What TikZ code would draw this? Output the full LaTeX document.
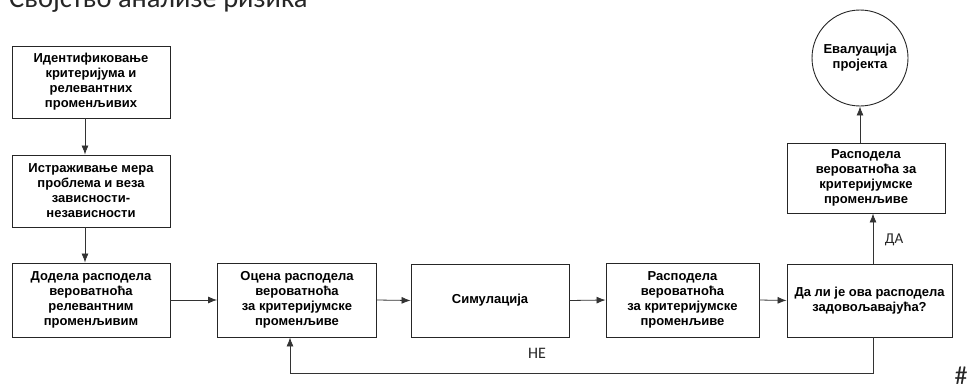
\documentclass[tikz,border=0pt]{standalone}
\usepackage{fontspec}
\setmainfont{Liberation Sans}
\newfontfamily\lblfont{Carlito}
\usetikzlibrary{arrows.meta,calc}
\tikzset{
  boxnode/.style={draw=black!85, line width=0.9pt, rectangle, align=center,
    font=\fontsize{13}{15}\selectfont\bfseries, inner sep=2pt},
  arr/.style={draw=black!80, line width=0.8pt, -{Latex[length=9pt,width=7pt]}},
  lbl/.style={font=\lblfont\fontsize{16}{18}\selectfont, text=black!85, inner sep=0pt}
}
\begin{document}
\begin{tikzpicture}[x=1pt,y=-1pt]
\useasboundingbox (0,0) rectangle (971,388);
\node[font=\lblfont\fontsize{28.5}{30}\selectfont, anchor=base west, inner sep=0pt, text=black!85] (title) at (9,7.5) {Својство анализе ризика};

\node[boxnode, minimum width=158pt, minimum height=72pt] (b1) at (91,82) {Идентификовање\\критеријума и\\релевантних\\променљивих};
\node[boxnode, minimum width=158pt, minimum height=72pt] (b2) at (91,191) {Истраживање мера\\проблема и веза\\зависности-\\независности};
\node[boxnode, minimum width=158pt, minimum height=74pt] (b3) at (91,300) {Додела расподела\\вероватноћа\\релевантним\\променљивим};
\node[boxnode, minimum width=159pt, minimum height=74pt] (b4) at (297,300) {Оцена расподела\\вероватноћа\\за критеријумске\\променљиве};
\node[boxnode, minimum width=158pt, minimum height=73pt] (b5) at (490,300.5) {Симулација};
\node[boxnode, minimum width=153pt, minimum height=74pt] (b6) at (682.5,300) {Расподела\\вероватноћа\\за критеријумске\\променљиве};
\node[boxnode, minimum width=165pt, minimum height=73pt] (b7) at (869.5,300.5) {Да ли је ова расподела\\задовољавајућа?};
\node[boxnode, minimum width=158pt, minimum height=70pt] (b8) at (866,178) {Расподела\\вероватноћа за\\критеријумске\\променљиве};
\node[boxnode, circle, minimum size=96pt, inner sep=0pt] (ev) at (860,58) {Евалуација\\пројекта};

\draw[arr] ([xshift=-6pt]b1.south) -- ([xshift=-6pt]b2.north);
\draw[arr] ([xshift=-6pt]b2.south) -- ([xshift=-6pt]b3.north);
\draw[arr] (b3.east) -- (b4.west);
\draw[arr] (b4.east) -- (b5.west);
\draw[arr] (b5.east) -- (b6.west);
\draw[arr] (b6.east) -- (b7.west);
\coordinate (lr) at (873,373);
\coordinate (ll) at (290,373);
\draw[arr] ([xshift=3.5pt]b7.south) -- (lr) -- (ll) -- ([xshift=-7pt]b4.south);
\draw[arr] ([xshift=3.5pt]b7.north) -- ([xshift=7pt]b8.south);
\draw[arr] (b8.north -| ev.south) -- (ev.south);

\node[lbl] (ne) at (537,353) {НЕ};
\node[lbl, font=\lblfont\fontsize{15}{17}\selectfont] (da) at (894,240) {ДА};
\node[lbl, font=\lblfont\fontsize{26}{28}\selectfont] (hash) at (961,376) {\#};
\end{tikzpicture}
\end{document}
